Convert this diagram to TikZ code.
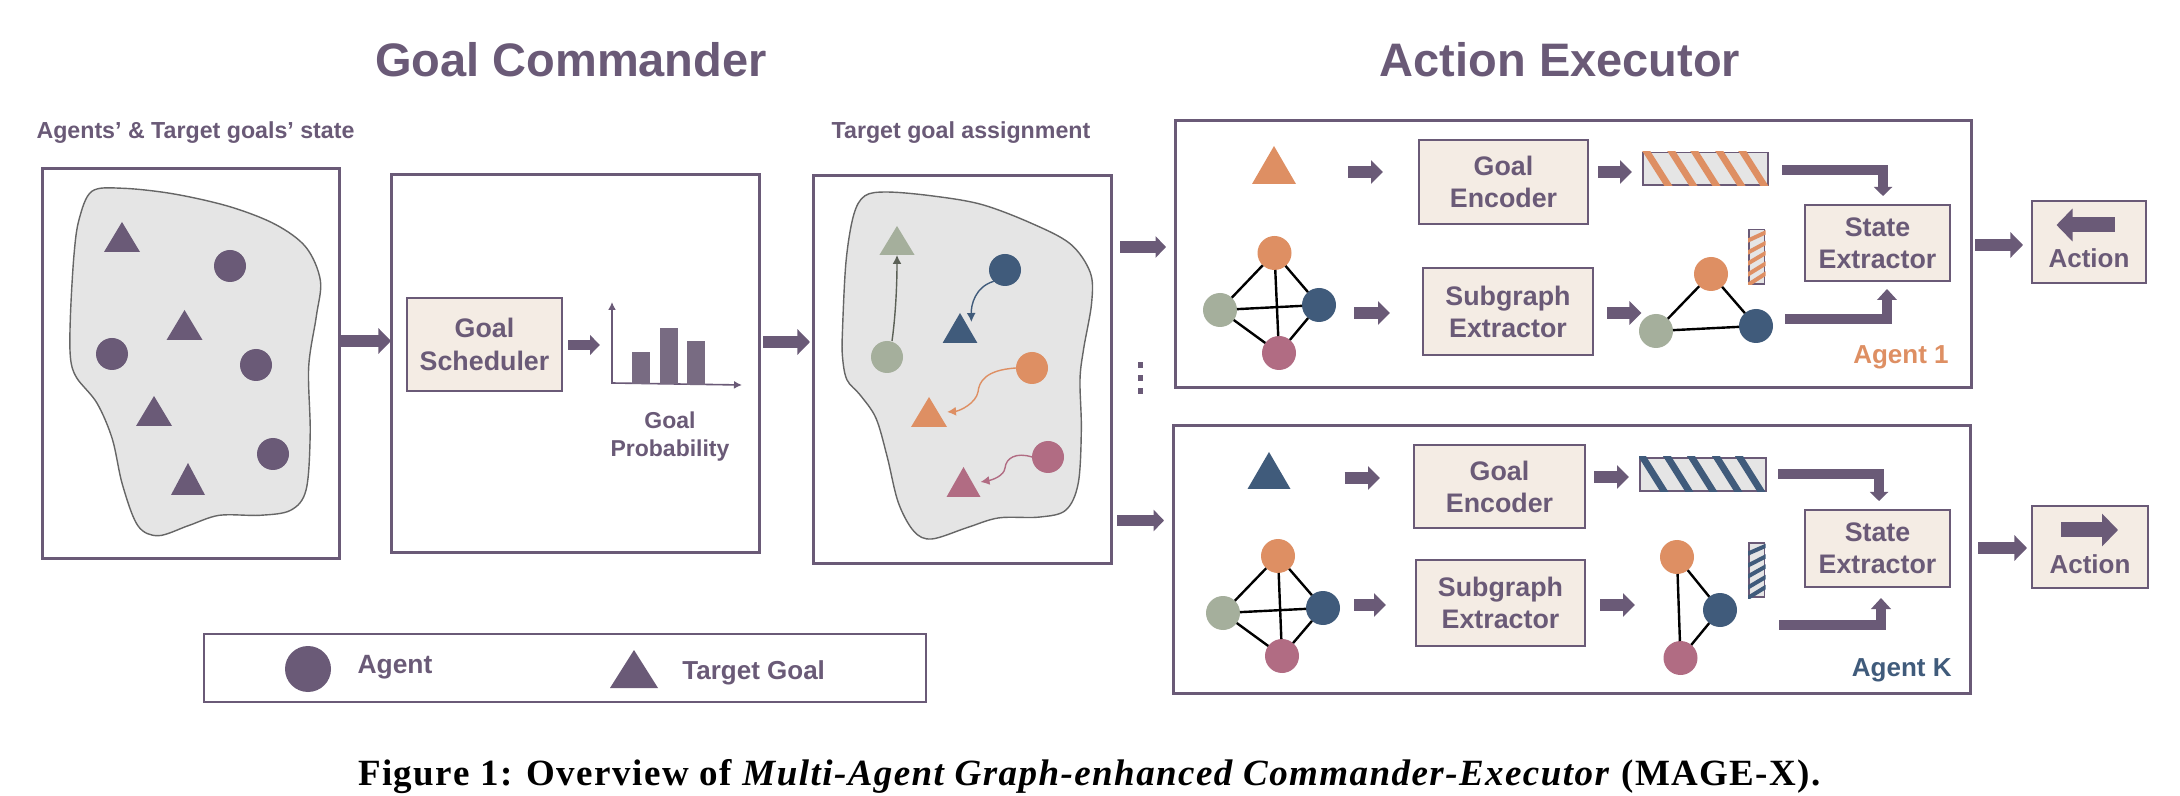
\documentclass[tikz,border=0pt]{standalone}
\usepackage{fontspec}
\setmainfont{Liberation Sans}
\newfontfamily\capfont[LetterSpace=3.9]{Liberation Serif}
\usetikzlibrary{arrows.meta}
\definecolor{pur}{HTML}{6A5A77}
\definecolor{barc}{HTML}{786B82}
\definecolor{beige}{HTML}{F4ECE4}
\definecolor{blobc}{HTML}{E5E5E5}
\definecolor{orng}{HTML}{DE8F63}
\definecolor{grn}{HTML}{A5AF9C}
\definecolor{blu}{HTML}{405B7B}
\definecolor{pnk}{HTML}{B16C83}
\newcommand{\fs}[1]{\fontsize{#1}{#1}\selectfont}
\newcommand{\boxn}[7]{%
  \pgfmathsetmacro\bw{(#5-#3)*0.5}\pgfmathsetmacro\bh{(#6-#4)*0.5}%
  \pgfmathsetmacro\bx{(#3+#5)/2}\pgfmathsetmacro\by{(#4+#6)/2}%
  \node[#1,minimum width=\bw pt,minimum height=\bh pt] (#2) at (\bx,\by) {#7};}
% name, cx, apex y, base y, half width, colour
\newcommand{\tri}[6]{%
  \pgfmathsetmacro\bw{#5}\pgfmathsetmacro\bh{(#4-#3)*0.5}\pgfmathsetmacro\by{(#3+#4)/2}%
  \node[inner sep=0pt,outer sep=0pt,minimum width=\bw pt,minimum height=\bh pt] (#1) at (#2,\by) {};
  \fill[#6] (#1.south west) -- (#1.north) -- (#1.south east) -- cycle;}
% name,x1,y1,x2,y2,colour, stripes
\newcommand{\hatchbar}[7]{%
  \boxn{outer sep=0pt,inner sep=0pt,fill=blobc}{#1}{#2}{#3}{#4}{#5}{}
  \draw[pur,line width=0.9pt] (#2,#3) rectangle (#4,#5);
  \begin{scope}
    \clip (#2-1,#3-1) rectangle (#4+1,#5+1);
    #7
  \end{scope}}
\tikzset{
  frame/.style={draw=pur,line width=1.5pt,fill=white,inner sep=0pt,outer sep=0pt},
  beigebox/.style={draw=pur,line width=1.1pt,fill=beige,inner sep=0pt,outer sep=0pt,text=pur,font=\bfseries\fs{13.4},align=center,text depth=0pt},
  lab/.style={text=pur,font=\bfseries\fs{11.6},inner sep=0pt,outer sep=0pt},
  dot/.style={circle,fill=#1,inner sep=0pt,outer sep=0pt,minimum size=16pt},
  gnode/.style={circle,fill=#1,inner sep=0pt,outer sep=0pt,minimum size=17pt},
  edge/.style={black,line width=1.2pt},
  block/.style n args={3}{draw=pur,line width=#1,-{Triangle[length=#2,width=#3]},miter limit=10},
  bgen/.style={block={6pt}{6pt}{11.5pt}},
  bbig/.style={block={6.3pt}{6.3pt}{12.5pt}},
  blobs/.style={draw=black!60,line width=0.7pt,fill=blobc},
  thin arr/.style={line width=0.7pt,-{Latex[length=4.5pt,width=4.5pt]}},
  axis/.style={draw=pur,line width=0.8pt,{Latex[length=4pt,width=4pt]}-{Latex[length=4pt,width=4pt]}},
}
\begin{document}
\begin{tikzpicture}[x=0.5pt,y=-0.5pt]
\useasboundingbox (0,0) rectangle (2180,796);
% titles
\node[text=pur,font=\bfseries\fs{23.5},inner sep=0pt] (t1) at (571,60) {Goal Commander};
\node[text=pur,font=\bfseries\fs{23.5},inner sep=0pt] (t2) at (1560,60) {Action Executor};
\node[lab] (l1) at (195.5,133) {Agents’ \& Target goals’ state};
\node[lab] (l2) at (961,133) {Target goal assignment};
% left frames
\boxn{frame}{box1}{42}{169}{339}{558}{}
\boxn{frame}{box2}{391}{175}{759}{553}{}
\boxn{frame}{box3}{813}{176}{1111}{563}{}
% blob 1
\begin{scope}[x=0.2551pt,y=-0.2551pt]
\draw[blobs] plot[smooth cycle,tension=0.55] coordinates {(180,375)(240,369)(340,380)(450,405)(540,440)(600,485)(628,550)(620,620)(605,720)(608,850)(600,960)(570,1000)(510,1010)(430,1010)(370,1030)(310,1050)(270,1030)(240,950)(220,860)(190,790)(150,740)(138,700)(138,620)(145,500)(155,430)};
\end{scope}
\node[dot=pur] (a1) at (230,266) {};
\node[dot=pur] (a2) at (112,354) {};
\node[dot=pur] (a3) at (256,365) {};
\node[dot=pur] (a4) at (273,454) {};
\tri{g1}{122}{222}{252}{18}{pur}
\tri{g2}{184.5}{310}{340}{18}{pur}
\tri{g3}{154}{396}{426}{18}{pur}
\tri{g4}{188}{463}{495}{17}{pur}
% scheduler
\boxn{beigebox,line width=0.8pt,text depth=0pt}{sched}{407}{298}{562}{391}{Goal\\[3.1pt]Scheduler}
\draw[axis] (612,302) -- (612,383) -- (742,385);
\fill[barc] (632,352) rectangle (650,384);
\fill[barc] (660,328) rectangle (678,384);
\fill[barc] (687,341) rectangle (705,385);
\node[lab,align=center,font=\bfseries\fs{11.5},text depth=0pt] (gp) at (670,434.5) {Goal\\[2.5pt]Probability};
% blob 2
\begin{scope}[xshift=390pt,yshift=-50pt,x=0.2232pt,y=-0.1917pt]
\draw[blobs] plot[smooth cycle,tension=0.55] coordinates {(190,250)(240,240)(340,250)(450,272)(560,320)(650,375)(695,450)(698,530)(680,650)(672,730)(675,860)(668,1000)(640,1070)(580,1088)(490,1090)(420,1115)(340,1145)(300,1125)(265,1050)(240,930)(215,830)(180,770)(150,730)(140,670)(140,600)(148,420)(165,300)};
\end{scope}
\node[dot=blu] (bc) at (1005,270) {};
\node[dot=grn] (gc) at (887,357) {};
\node[dot=orng] (oc) at (1032,368) {};
\node[dot=pnk] (pc) at (1048,457) {};
\tri{gt}{897}{226}{255}{17.6}{grn}
\tri{bt}{960}{313}{343}{17.4}{blu}
\tri{ot}{929}{397}{427}{18}{orng}
\tri{pt}{963.5}{467}{497}{17}{pnk}
\draw[thin arr,draw=black!45!grn,-{Latex[length=4.5pt,width=4.5pt]}] ([xshift=2.5pt]gc.north) .. controls (895,320) and (897,290) .. (gt.south);
\draw[thin arr,blu] (bc.south west) .. controls (975,287) and (971,305) .. ([xshift=-3pt,yshift=-4.5pt]bt.north east);
\draw[thin arr,orng] (oc.west) .. controls (985,370) and (979,382) .. (978,392) .. controls (976,403) and (960,411) .. (ot.east);
\draw[thin arr,pnk] (pc.west) .. controls (1016,452) and (1006,458) .. (1005,468) .. controls (1004,476) and (992,480) .. (pt.east);
% dots
\foreach \yy [count=\i] in {365,378,391} \fill[pur] (1137.5,\yy-2.7) rectangle (1143,\yy+2.7);
% left arrows
\draw[bbig,shorten <=1pt] (box1.east |- 0,341) -- (box2.west |- 0,341);
\draw[block={5.2pt}{5pt}{9.7pt},shorten <=3pt,shorten >=6pt] (sched.east |- 0,345) -- (612,345);
\draw[bbig,shorten <=2pt,shorten >=1.5pt] (box2.east |- 0,342) -- (box3.west |- 0,342);
% agent 1
\boxn{frame}{ag1}{1175}{121}{1971}{388}{}
\boxn{frame}{agk}{1173}{426}{1970}{693}{}
\draw[block={5.7pt}{5.2pt}{10.5pt},shorten <=4.5pt,shorten >=4.5pt] (box3.east |- 0,247) -- (ag1.west |- 0,247);
\draw[block={5.7pt}{5.2pt}{10.5pt},shorten <=3.2pt,shorten >=4.5pt] (box3.east |- 0,520.5) -- (agk.west |- 0,520.5);
%
\tri{tg1}{1274}{146}{184}{22}{orng}
\boxn{beigebox}{ge1}{1419}{140}{1588}{224}{Goal\\[2.5pt]Encoder}
\boxn{beigebox}{se1}{1423}{268}{1593}{355}{Subgraph\\[2.5pt]Extractor}
\boxn{beigebox}{st1}{1805}{205}{1950}{281}{State\\[2.5pt]Extractor}
\boxn{beigebox}{ac1}{2032}{201}{2146}{283}{}
\node[text=pur,font=\bfseries\fs{13},inner sep=0pt] (act1) at (2089,258) {Action};
\coordinate (aa1) at (2114.5,225); \coordinate (ab1) at (2056.5,225);
\draw[block={7.5pt}{8pt}{16pt}] (aa1) -- (ab1);
\hatchbar{bar1}{1643}{152.5}{1768}{185}{orng}{\foreach \xa in {1647,1672,1695,1720,1743} \draw[orng,line width=3.4pt] (\xa-3,147.5) -- (\xa+24,190);}
\hatchbar{vec1}{1749}{229.5}{1764.5}{284}{orng}{\foreach \ya/\yb in {241/233,253/243.5,264/253.5,275/264,285.5/274} \draw[orng,line width=2pt] (1747,\ya) -- (1766.5,\yb-1);}
\node[gnode=orng] (o1) at (1274.5,253) {};
\node[gnode=grn] (g11) at (1220,310) {};
\node[gnode=blu] (b1) at (1319,305) {};
\node[gnode=pnk] (p1) at (1279,353) {};
\draw[edge] (o1) -- (g11) (o1) -- (b1) (o1) -- (p1) (g11) -- (b1) (g11) -- (p1) (b1) -- (p1);
\node[gnode=orng] (so1) at (1711,274) {};
\node[gnode=grn] (sg1) at (1656,331) {};
\node[gnode=blu] (sb1) at (1756,326) {};
\draw[edge] (so1) -- (sg1) (so1) -- (sb1) (sg1) -- (sb1);
\draw[bgen,shorten <=26pt,shorten >=18pt] (tg1.east |- 0,172) -- (ge1.west |- 0,172);
\draw[bgen,shorten <=5pt,shorten >=5.5pt] (ge1.east |- 0,172) -- (bar1.west |- 0,172);
\draw[bgen,shorten <=9pt,shorten >=16.5pt] (b1.east |- 0,313) -- (se1.west |- 0,313);
\draw[bgen,shorten <=7pt,shorten >=-1.2pt] (se1.east |- 0,313) -- (sg1.west |- 0,313);
\draw[block={4.7pt}{4.5pt}{9pt},shorten <=7pt,shorten >=4.5pt] (bar1.east |- 0,170) -| (1883,0 |- st1.north);
\draw[block={5.2pt}{5.5pt}{9.7pt},shorten <=6pt,shorten >=4pt] (sb1.east |- 0,319) -| (1887,0 |- st1.south);
\draw[bbig,shorten <=2pt,shorten >=4.5pt] (ag1.east |- 0,245) -- (ac1.west |- 0,245);
\node[text=orng,font=\bfseries\fs{13},inner sep=0pt,anchor=east] (la1) at (1949,357) {Agent 1};
% agent K
\tri{tgk}{1269}{452}{489}{21.5}{blu}
\boxn{beigebox}{gek}{1414}{445}{1585}{528}{Goal\\[2.5pt]Encoder}
\boxn{beigebox}{sek}{1416}{560}{1585}{646}{Subgraph\\[2.5pt]Extractor}
\boxn{beigebox}{stk}{1805}{510}{1950}{587}{State\\[2.5pt]Extractor}
\boxn{beigebox}{ack}{2032}{506}{2148}{588}{}
\node[text=pur,font=\bfseries\fs{13},inner sep=0pt] (actk) at (2090,564) {Action};
\coordinate (aak) at (2061,530); \coordinate (abk) at (2118,530);
\draw[block={7.5pt}{8pt}{16pt}] (aak) -- (abk);
\hatchbar{bark}{1640}{458}{1766}{491}{blu}{\foreach \xa in {1643,1668,1692,1717,1740} \draw[blu,line width=3.4pt] (\xa-3,453) -- (\xa+24,496);}
\hatchbar{veck}{1749}{543}{1764.5}{597}{blu}{\foreach \ya/\yb in {554/546.5,566/557,577/567,588/577.5,598.5/587.5} \draw[blu,line width=2pt] (1747,\ya) -- (1766.5,\yb-1);}
\node[gnode=orng] (ok) at (1278,556) {};
\node[gnode=grn] (gkk) at (1223,613) {};
\node[gnode=blu] (bk) at (1323,608) {};
\node[gnode=pnk] (pk) at (1282,656) {};
\draw[edge] (ok) -- (gkk) (ok) -- (bk) (ok) -- (pk) (gkk) -- (bk) (gkk) -- (pk) (bk) -- (pk);
\node[gnode=orng] (sok) at (1677,557) {};
\node[gnode=blu] (sbk) at (1720,610) {};
\node[gnode=pnk] (spk) at (1680.5,658) {};
\draw[edge] (sok) -- (sbk) (sok) -- (spk) (sbk) -- (spk);
\draw[bgen,shorten <=27pt,shorten >=17pt] (tgk.east |- 0,478) -- (gek.west |- 0,478);
\draw[bgen,shorten <=4.5pt,shorten >=5.5pt] (gek.east |- 0,477) -- (bark.west |- 0,477);
\draw[bgen,shorten <=7pt,shorten >=15pt] (bk.east |- 0,605) -- (sek.west |- 0,605);
\draw[bgen,shorten <=7.5pt,shorten >=34pt] (sek.east |- 0,605) -- (sbk.west |- 0,605);
\draw[block={4.7pt}{4.5pt}{9pt},shorten <=6pt,shorten >=4.5pt] (bark.east |- 0,474) -| (1879,0 |- stk.north);
\draw[block={5.2pt}{5.5pt}{9.7pt},shorten <=21pt,shorten >=5.5pt] (sbk.east |- 0,625) -| (1881,0 |- stk.south);
\draw[bbig,shorten <=4pt,shorten >=2.5pt] (agk.east |- 0,548) -- (ack.west |- 0,548);
\node[text=blu,font=\bfseries\fs{13},inner sep=0pt,anchor=east] (lak) at (1952,670) {Agent K};
% legend
\boxn{frame,line width=1.2pt}{leg}{204}{634}{926}{702}{}
\node[circle,fill=pur,inner sep=0pt,minimum size=23pt] (lc) at (308,669) {};
\node[text=pur,font=\bfseries\fs{13.2},inner sep=0pt] (lct) at (395,667) {Agent};
\tri{lt}{634}{650}{688}{24}{pur}
\node[text=pur,font=\bfseries\fs{13},inner sep=0pt,anchor=west] (ltt) at (682,672.5) {Target Goal};
% caption
\node[font=\capfont\bfseries\fs{18.5},inner sep=0pt] (cap) at (1089.5,777) {Figure 1: Overview of \textit{Multi-Agent Graph-enhanced Commander-Executor} (MAGE-X).};
\end{tikzpicture}
\end{document}
